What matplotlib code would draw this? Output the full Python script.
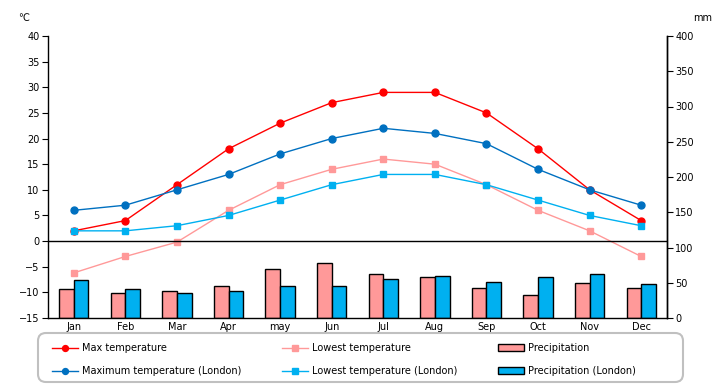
import numpy as np
import matplotlib.pyplot as plt
from matplotlib.patches import FancyBboxPatch

months = ["Jan", "Feb", "Mar", "Apr", "may", "Jun", "Jul", "Aug", "Sep", "Oct", "Nov", "Dec"]
max_temp = [2, 4, 11, 18, 23, 27, 29, 29, 25, 18, 10, 4]
low_temp = [-6.2, -3, -0.2, 6, 11, 14, 16, 15, 11, 6, 2, -3]
max_london = [6, 7, 10, 13, 17, 20, 22, 21, 19, 14, 10, 7]
low_london = [2, 2, 3, 5, 8, 11, 13, 13, 11, 8, 5, 3]
precip = [41, 36, 38, 46, 70, 78, 63, 58, 42, 32, 49, 43]
precip_london = [54, 41, 36, 38, 46, 46, 56, 59, 51, 58, 63, 48]

plt.rcParams['font.family'] = ['DejaVu Sans']
plt.rcParams['font.size'] = 7

fig = plt.figure(figsize=(7.2, 3.85), dpi=100)
ax = fig.add_axes([48/720, 67/385, 619/720, 282/385])
ax2 = ax.twinx()
ax.set_zorder(ax2.get_zorder() + 1)
ax.patch.set_visible(False)
ax2.patch.set_facecolor("#FFFFCC")

x = np.arange(len(months))
w = 0.285
b1 = ax2.bar(x - w/2, precip, w, color="#FF9999", edgecolor="black", linewidth=1, label="Precipitation")
b2 = ax2.bar(x + w/2, precip_london, w, color="#00B0F0", edgecolor="black", linewidth=1, label="Precipitation (London)")

l1, = ax.plot(x, max_temp, color="#FF0000", marker="o", ms=5, lw=1, label="Max temperature")
l2, = ax.plot(x, max_london, color="#0070C0", marker="o", ms=5, lw=1, label="Maximum temperature (London)")
l3, = ax.plot(x, low_temp, color="#FF9999", marker="s", ms=5, lw=1, label="Lowest temperature")
l4, = ax.plot(x, low_london, color="#00B0F0", marker="s", ms=5, lw=1, label="Lowest temperature (London)")
ax.axhline(0, color="black", lw=1)

ax.set_xlim(-0.5, 11.5)
ax.set_ylim(-15, 40)
ax.set_yticks(range(-15, 41, 5))
ax2.set_ylim(0, 400)
ax2.set_yticks(range(0, 401, 50))
ax.set_xticks(x)
ax.set_xticklabels(months)
ax.tick_params(axis="x", length=0, pad=3)
ax.tick_params(axis="y", length=4, pad=2)
ax2.tick_params(axis="y", length=4, pad=2)
for a in (ax, ax2):
    for s in a.spines.values():
        s.set_linewidth(1)
    a.spines["top"].set_visible(False)
ax2.spines["left"].set_visible(False)
ax2.spines["bottom"].set_visible(False)

fig.text(18/720, 1 - 18/385, "℃", fontsize=7, va="center")
fig.text(693/720, 1 - 18/385, "mm", fontsize=7, va="center")

# legend frame drawn separately so it can be wider than the entries
frame = FancyBboxPatch((38/720, 1 - 382/385), 645/720, 49/385,
                       boxstyle="round,pad=0,rounding_size=0.011",
                       transform=fig.transFigure, facecolor="white",
                       edgecolor="#C0C0C0", linewidth=1.5, mutation_aspect=720/385)
fig.patches.append(frame)

handles = [l1, l2, l3, l4, b1, b2]
leg = fig.legend(handles, [h.get_label() for h in handles],
                 ncol=3, loc="center left", bbox_to_anchor=(52/720, 1 - 359.5/385),
                 frameon=False, handlelength=2.67, handletextpad=0.4,
                 columnspacing=4.2, labelspacing=1.35, borderpad=0,
                 borderaxespad=0, fontsize=7, markerscale=0.85)

plt.savefig("out.png", dpi=100)
